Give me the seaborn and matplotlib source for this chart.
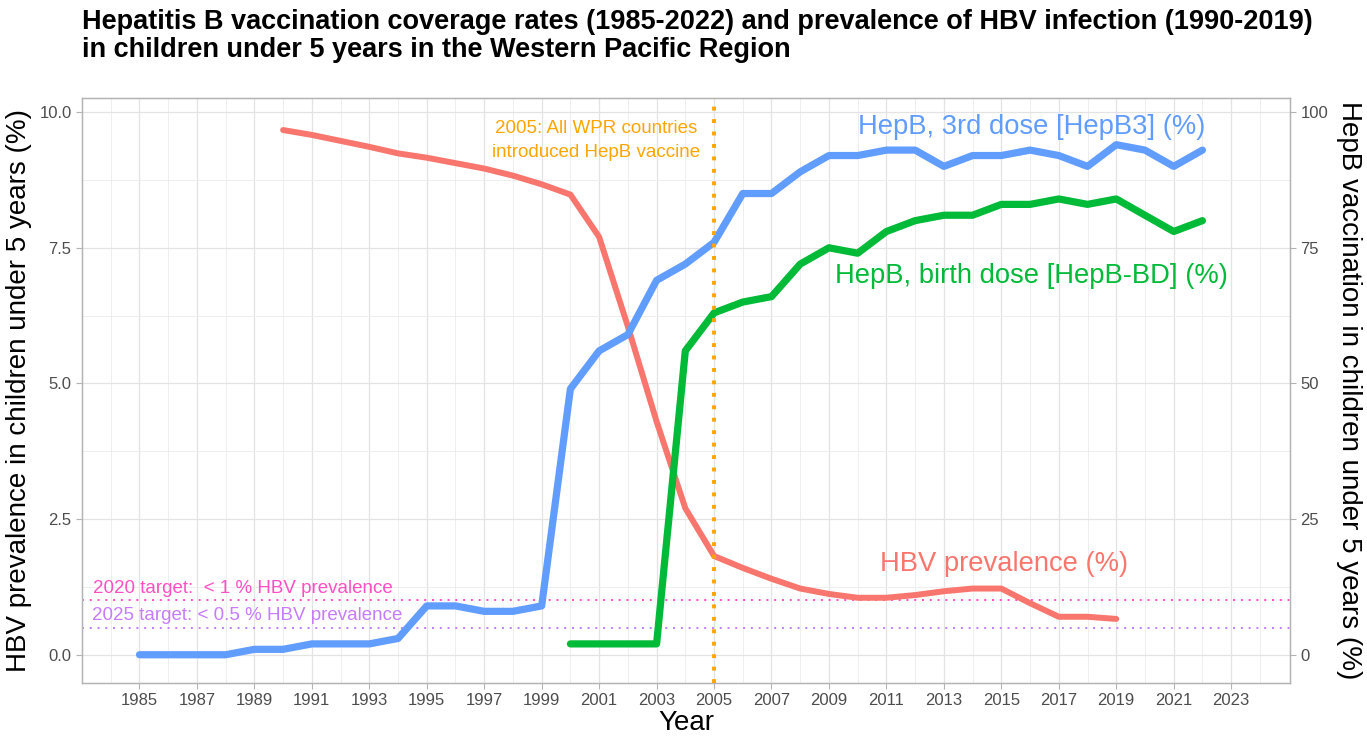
import numpy as np
import pandas as pd
import matplotlib
matplotlib.use("Agg")
import matplotlib.pyplot as plt
import seaborn as sns

# data
hepb3_years = list(range(1985, 2023))
hepb3 = [0, 0, 0, 0, 1, 1, 2, 2, 2, 3, 9, 9, 8, 8, 9, 49, 56, 59, 69, 72, 76,
         85, 85, 89, 92, 92, 93, 93, 90, 92, 92, 93, 92, 90, 94, 93, 90, 93]

bd_years = list(range(2000, 2023))
hepb_bd = [2, 2, 2, 2, 56, 63, 65, 66, 72, 75, 74, 78, 80, 81, 81, 83, 83, 84,
           83, 84, 81, 78, 80]

prev_years = list(range(1990, 2020))
hbv_prev = [9.67, 9.58, 9.47, 9.36, 9.24, 9.16, 9.06, 8.96, 8.83, 8.67, 8.48,
            7.7, 6.05, 4.3, 2.7, 1.82, 1.6, 1.4, 1.22, 1.12, 1.05, 1.05, 1.1,
            1.17, 1.22, 1.22, 0.95, 0.7, 0.7, 0.66]

year_ticks = list(range(1985, 2024, 2))
left_ticks = [0.0, 2.5, 5.0, 7.5, 10.0]
right_ticks = [0, 25, 50, 75, 100]

RED = "#F8766D"
GREEN = "#00BA38"
BLUE = "#619CFF"
ORANGE = "#FFA500"
PINK = "#FF4FC4"
PURPLE = "#C77CFF"

sns.set_style("whitegrid")
plt.rcParams['font.family'] = ['Liberation Sans', 'DejaVu Sans']

fig = plt.figure(figsize=(13.67, 7.46), dpi=100)
ax = fig.add_axes([0.060, 0.0845, 0.8837, 0.7841])
ax2 = ax.twinx()

df_prev = pd.DataFrame({"year": prev_years, "val": hbv_prev})
df_b3 = pd.DataFrame({"year": hepb3_years, "val": hepb3})
df_bd = pd.DataFrame({"year": bd_years, "val": hepb_bd})

# prevalence on the left axis (drawn underneath)
sns.lineplot(data=df_prev, x="year", y="val", ax=ax, color=RED, linewidth=4.3,
             zorder=3)
# vaccination coverage on the right axis
sns.lineplot(data=df_b3, x="year", y="val", ax=ax2, color=BLUE, linewidth=5.2,
             zorder=3)
sns.lineplot(data=df_bd, x="year", y="val", ax=ax2, color=GREEN, linewidth=5.2,
             zorder=4)

ax.set_xlim(1983.0, 2025.05)
ax.set_ylim(-0.52, 10.26)
ax2.set_ylim(-5.2, 102.6)

# reference lines
ax2.axvline(2005, color=ORANGE, linestyle=(0, (1, 2.2)), linewidth=2.8,
            zorder=6)
ax.axhline(1.0, color=PINK, linestyle=(0, (1, 3)), linewidth=1.4, zorder=1)
ax.axhline(0.5, color=PURPLE, linestyle=(0, (1, 3)), linewidth=1.4, zorder=1)

ax.text(1988.6, 1.22, "2020 target:  < 1 % HBV prevalence", color=PINK,
        fontsize=13.5, ha="center", va="center")
ax.text(1988.75, 0.72, "2025 target: < 0.5 % HBV prevalence", color=PURPLE,
        fontsize=13.5, ha="center", va="center")
ax.text(2000.9, 9.7, "2005: All WPR countries", color=ORANGE, fontsize=13.5,
        ha="center", va="center")
ax.text(2000.9, 9.25, "introduced HepB vaccine", color=ORANGE, fontsize=13.5,
        ha="center", va="center")
ax.text(2016.05, 9.72, "HepB, 3rd dose [HepB3] (%)", color=BLUE, fontsize=19.7,
        ha="center", va="center")
ax.text(2016.05, 6.98, "HepB, birth dose [HepB-BD] (%)", color=GREEN,
        fontsize=19.7, ha="center", va="center")
ax.text(2015.1, 1.67, "HBV prevalence (%)", color=RED, fontsize=19.7,
        ha="center", va="center")

# axes, ticks, grid
ax.set_xticks(year_ticks)
ax.set_xticks(list(range(1984, 2025, 2)), minor=True)
ax.set_yticks(left_ticks)
ax.set_yticklabels([f"{t:.1f}" for t in left_ticks])
ax.set_yticks([1.25, 3.75, 6.25, 8.75], minor=True)
ax2.set_yticks(right_ticks)

ax.grid(True, which="major", color="#E3E3E3", linewidth=0.9)
ax.grid(True, which="minor", color="#EEEEEE", linewidth=0.7)
ax2.grid(False)

ax.tick_params(axis="both", which="major", labelsize=12, length=4,
               color="#B3B3B3", labelcolor="#4D4D4D", direction="out",
               bottom=True, left=True)
ax.tick_params(axis="both", which="minor", length=0)
ax2.tick_params(axis="y", labelsize=12, length=4, color="#B3B3B3",
                labelcolor="#4D4D4D", right=True)

ax.set_xlabel("Year", fontsize=20, labelpad=1, color="black")
ax.set_ylabel("HBV prevalence in children under 5 years (%)", fontsize=20,
              labelpad=5, color="black")
ax2.set_ylabel("HepB vaccination in children under 5 years (%)", fontsize=20,
               rotation=270, labelpad=24, color="black")

for a in (ax, ax2):
    for s in a.spines.values():
        s.set_color("#B3B3B3")
        s.set_linewidth(0.9)

fig.text(0.060, 0.988, "Hepatitis B vaccination coverage rates (1985-2022) and "
         "prevalence of HBV infection (1990-2019)\nin children under 5 years "
         "in the Western Pacific Region", fontsize=19.5, fontweight="bold",
         ha="left", va="top", linespacing=1.1, color="black")

fig.savefig("out.png", dpi=100)
